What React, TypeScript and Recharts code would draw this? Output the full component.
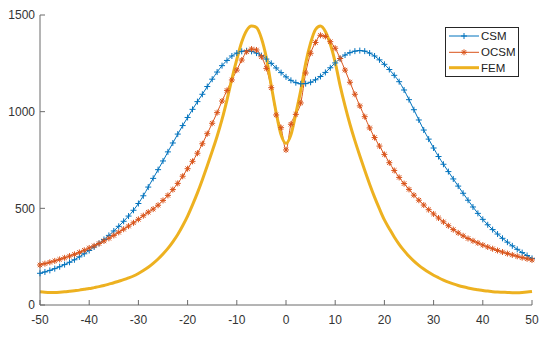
import React from "react";
import { Legend, Line, LineChart, XAxis, YAxis } from "recharts";

const xs = [
  -50, -49, -48, -47, -46, -45, -44, -43, -42, -41,
  -40, -39, -38, -37, -36, -35, -34, -33, -32, -31,
  -30, -29, -28, -27, -26, -25, -24, -23, -22, -21,
  -20, -19, -18, -17, -16, -15, -14, -13, -12, -11,
  -10, -9, -8, -7, -6, -5, -4, -3, -2, -1,
  0, 1, 2, 3, 4, 5, 6, 7, 8, 9,
  10, 11, 12, 13, 14, 15, 16, 17, 18, 19,
  20, 21, 22, 23, 24, 25, 26, 27, 28, 29,
  30, 31, 32, 33, 34, 35, 36, 37, 38, 39,
  40, 41, 42, 43, 44, 45, 46, 47, 48, 49, 50,
];

const csm = [
  164, 171, 179, 188, 198, 209, 221, 234, 249, 265,
  282, 300, 319, 339, 360, 383, 407, 433, 460, 490,
  525, 565, 610, 655, 700, 745, 792, 838, 884, 928,
  970, 1012, 1052, 1090, 1130, 1168, 1205, 1238, 1265, 1288,
  1303, 1312, 1315, 1312, 1303, 1290, 1272, 1250, 1226, 1202,
  1180, 1162, 1150, 1144, 1145, 1152, 1165, 1182, 1203, 1227,
  1252, 1275, 1293, 1305, 1313, 1316, 1313, 1303, 1288, 1268,
  1245, 1218, 1188, 1155, 1112, 1062, 1010, 957, 905, 858,
  812, 768, 728, 690, 652, 615, 578, 542, 507, 474,
  443, 415, 390, 367, 345, 325, 306, 288, 271, 256, 241,
];

const ocsm = [
  207, 214, 221, 228, 236, 244, 253, 262, 272, 283,
  295, 306, 318, 331, 345, 360, 376, 392, 408, 425,
  443, 462, 480, 496, 516, 541, 567, 597, 629, 666,
  705, 743, 785, 834, 886, 940, 995, 1055, 1110, 1164,
  1215, 1267, 1310, 1324, 1319, 1284, 1224, 1124, 983, 917,
  802, 935, 986, 1045, 1200, 1302, 1358, 1395, 1389, 1362,
  1328, 1275, 1215, 1152, 1090, 1030, 974, 916, 866, 822,
  779, 736, 696, 660, 628, 598, 568, 542, 517, 493,
  471, 450, 430, 410, 390, 373, 358, 344, 332, 321,
  310, 300, 291, 282, 274, 266, 259, 252, 245, 239, 233,
];

const fem = [
  68, 66, 65, 65, 66, 68, 71, 74, 77, 81,
  85, 90, 95, 101, 108, 115, 123, 131, 140, 150,
  163, 178, 195, 215, 238, 264, 293, 327, 365, 410,
  460, 518, 580, 648, 720, 795, 873, 960, 1060, 1170,
  1270, 1360, 1420, 1443, 1435, 1380, 1280, 1135, 995, 880,
  836, 880, 990, 1110, 1250, 1355, 1425, 1443, 1415, 1350,
  1255, 1135, 1030, 935, 850, 772, 697, 625, 558, 497,
  440, 395, 352, 314, 281, 252, 227, 205, 186, 169,
  154, 141, 129, 118, 109, 101, 94, 88, 83, 79,
  75, 72, 69, 67, 66, 65, 64, 64, 65, 67, 70,
];

const xTicks = [-50, -40, -30, -20, -10, 0, 10, 20, 30, 40, 50];
const yTicks = [0, 500, 1000, 1500];

const BLUE = "#0072BD";
const ORANGE = "#D95319";
const YELLOW = "#EDB120";
const AXIS = "#6b6b6b";
const FONT = "'Liberation Sans', Arial, sans-serif";

const data = xs.map((x, i) => ({ x, csm: csm[i], ocsm: ocsm[i], fem: fem[i] }));

const plusPath = (cx: number, cy: number) =>
  `M${cx - 3},${cy}h6M${cx},${cy - 3}v6`;
const starPath = (cx: number, cy: number) =>
  `M${cx - 3},${cy}h6M${cx},${cy - 3}v6M${cx - 2.2},${cy - 2.2}l4.4,4.4M${cx - 2.2},${cy + 2.2}l4.4,-4.4`;

const PlusDot = (props: any) => {
  const { cx, cy, index } = props;
  if (cx == null || cy == null) return <g key={`p${index}`} />;
  return <path key={`p${index}`} d={plusPath(cx, cy)} stroke={BLUE} strokeWidth={1} fill="none" />;
};

const StarDot = (props: any) => {
  const { cx, cy, index } = props;
  if (cx == null || cy == null) return <g key={`s${index}`} />;
  return <path key={`s${index}`} d={starPath(cx, cy)} stroke={ORANGE} strokeWidth={1} fill="none" />;
};

const LegendBox = () => (
  <div
    style={{
      width: 74,
      height: 50,
      border: "1px solid #262626",
      background: "#fff",
      boxSizing: "border-box",
    }}
  >
    <svg width={72} height={48} style={{ display: "block" }}>
      <g fontFamily={FONT} fontSize={11.5} fill="#222">
        <line x1={3} x2={33} y1={8} y2={8} stroke={BLUE} strokeWidth={1} />
        <path d={plusPath(18, 8)} stroke={BLUE} fill="none" />
        <text x={35} y={12}>CSM</text>
        <line x1={3} x2={33} y1={24.3} y2={24.3} stroke={ORANGE} strokeWidth={1} />
        <path d={starPath(18, 24.3)} stroke={ORANGE} fill="none" />
        <text x={35} y={28.3}>OCSM</text>
        <line x1={3} x2={33} y1={39.7} y2={39.7} stroke={YELLOW} strokeWidth={3} />
        <text x={35} y={43.7}>FEM</text>
      </g>
    </svg>
  </div>
);

export default function App() {
  const tickStyle = { fontSize: 12, fill: "#333", fontFamily: FONT };
  return (
    <div style={{ position: "absolute", left: 0, top: 0, width: 550, height: 338, background: "#fff" }}>
      <LineChart width={550} height={338} data={data} margin={{ top: 15, right: 18, bottom: 0, left: 0 }}>
        <XAxis
          dataKey="x"
          type="number"
          domain={[-50, 50]}
          ticks={xTicks}
          height={33}
          tickSize={-5}
          tickMargin={15}
          tick={tickStyle}
          stroke={AXIS}
          interval={0}
        />
        <XAxis
          xAxisId="top"
          dataKey="x"
          type="number"
          orientation="top"
          domain={[-50, 50]}
          ticks={xTicks}
          height={0}
          tickSize={-5}
          tick={false}
          stroke={AXIS}
        />
        <YAxis
          type="number"
          domain={[0, 1500]}
          ticks={yTicks}
          width={40}
          tickSize={-5}
          tickMargin={10}
          tick={tickStyle}
          stroke={AXIS}
          interval={0}
        />
        <YAxis
          yAxisId="right"
          type="number"
          orientation="right"
          domain={[0, 1500]}
          ticks={yTicks}
          width={0}
          tickSize={-5}
          tick={false}
          stroke={AXIS}
        />
        <Legend
          layout="vertical"
          align="center"
          verticalAlign="middle"
          content={() => <LegendBox />}
          wrapperStyle={{ left: 445, top: 27, width: 74, height: 50 }}
        />
        <Line
          type="monotone"
          dataKey="csm"
          name="CSM"
          stroke={BLUE}
          strokeWidth={1}
          dot={PlusDot}
          activeDot={false}
          isAnimationActive={false}
        />
        <Line
          type="monotone"
          dataKey="ocsm"
          name="OCSM"
          stroke={ORANGE}
          strokeWidth={1}
          dot={StarDot}
          activeDot={false}
          isAnimationActive={false}
        />
        <Line
          type="monotone"
          dataKey="fem"
          name="FEM"
          stroke={YELLOW}
          strokeWidth={3}
          dot={false}
          activeDot={false}
          isAnimationActive={false}
        />
      </LineChart>
    </div>
  );
}
